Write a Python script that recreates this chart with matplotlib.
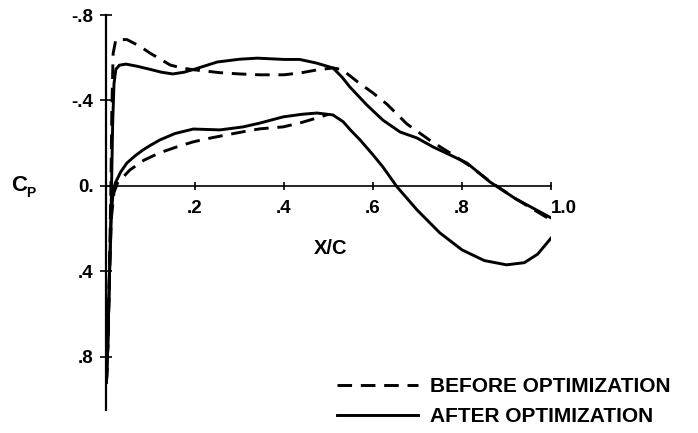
import matplotlib
matplotlib.use("Agg")
import matplotlib.pyplot as plt

plt.rcParams['font.family'] = ['Liberation Sans', 'DejaVu Sans']

# Pressure coefficient distributions (x/c, Cp); negative Cp plotted upward
before_upper_x = [0.001, 0.004, 0.008, 0.011, 0.013, 0.016, 0.022, 0.047, 0.075, 0.1, 0.125,
                  0.144, 0.17, 0.196, 0.256, 0.3, 0.346, 0.4, 0.44, 0.474, 0.51,
                  0.53, 0.566, 0.6, 0.631, 0.676, 0.73, 0.773, 0.82, 0.863, 0.92, 1.0]
before_upper_cp = [0.92, 0.75, 0.35, 0.0, -0.35, -0.62, -0.685, -0.685, -0.655, -0.62, -0.59,
                   -0.566, -0.552, -0.544, -0.53, -0.524, -0.52, -0.52, -0.53, -0.543, -0.552,
                   -0.545, -0.486, -0.435, -0.383, -0.29, -0.21, -0.154, -0.09, -0.02, 0.06, 0.16]

after_upper_x = [0.001, 0.004, 0.008, 0.012, 0.015, 0.018, 0.022, 0.03, 0.045, 0.07, 0.1, 0.125,
                 0.15, 0.175, 0.2, 0.25, 0.3, 0.34, 0.4, 0.435, 0.473, 0.51,
                 0.53, 0.548, 0.586, 0.622, 0.661, 0.699, 0.735, 0.773, 0.811, 0.863, 0.92, 1.0]
after_upper_cp = [0.92, 0.75, 0.4, 0.05, -0.3, -0.48, -0.545, -0.565, -0.57, -0.56, -0.545, -0.532,
                  -0.524, -0.532, -0.547, -0.58, -0.593, -0.598, -0.592, -0.592, -0.575, -0.552,
                  -0.51, -0.463, -0.379, -0.308, -0.252, -0.224, -0.182, -0.145, -0.107, -0.018, 0.06, 0.15]

before_lower_x = [0.001, 0.004, 0.008, 0.012, 0.018, 0.026, 0.054, 0.085, 0.121, 0.16, 0.196,
                  0.235, 0.272, 0.31, 0.346, 0.398, 0.44, 0.474, 0.5]
before_lower_cp = [0.92, 0.75, 0.4, 0.15, 0.03, -0.014, -0.075, -0.12, -0.155, -0.183, -0.206,
                   -0.224, -0.239, -0.254, -0.267, -0.276, -0.297, -0.318, -0.335]

after_lower_x = [0.001, 0.004, 0.008, 0.012, 0.016, 0.021, 0.033, 0.047, 0.065, 0.083, 0.1,
                 0.121, 0.155, 0.196, 0.256, 0.308, 0.346, 0.398, 0.44, 0.474, 0.51,
                 0.533, 0.55, 0.571, 0.6, 0.622, 0.654, 0.699, 0.75, 0.8, 0.85,
                 0.9, 0.94, 0.97, 1.0]
after_lower_cp = [0.92, 0.75, 0.4, 0.13, 0.03, -0.014, -0.065, -0.107, -0.14, -0.168, -0.19,
                  -0.215, -0.245, -0.266, -0.262, -0.276, -0.294, -0.323, -0.335, -0.341, -0.332,
                  -0.3, -0.26, -0.215, -0.145, -0.089, 0.005, 0.113, 0.22, 0.3, 0.35,
                  0.37, 0.36, 0.32, 0.245]

x_ticks = [0.2, 0.4, 0.6, 0.8, 1.0]
x_tick_labels = ['.2', '.4', '.6', '.8', '1.0']
y_ticks = [-0.8, -0.4, 0.0, 0.4, 0.8]
y_tick_labels = ['-.8', '-.4', '0.', '.4', '.8']

labels = ['BEFORE OPTIMIZATION', 'AFTER OPTIMIZATION']

fig = plt.figure(figsize=(6.98, 4.33), dpi=100)
ax = fig.add_axes([0.1519, 0.0531, 0.6375, 0.9122])

lw = 2.1
dash = (5, 3)
l1, = ax.plot(before_upper_x, before_upper_cp, color='black', lw=lw, dashes=dash)
ax.plot(before_lower_x, before_lower_cp, color='black', lw=lw, dashes=dash)
l2, = ax.plot(after_upper_x, after_upper_cp, color='black', lw=lw)
ax.plot(after_lower_x, after_lower_cp, color='black', lw=lw)

ax.set_xlim(0, 1.0)
ax.set_ylim(1.05, -0.8)

for s in ('top', 'right'):
    ax.spines[s].set_visible(False)
ax.spines['bottom'].set_position(('data', 0))
ax.spines['bottom'].set_linewidth(1.2)
ax.spines['left'].set_linewidth(1.6)

ax.set_xticks(x_ticks)
ax.set_xticklabels(x_tick_labels)
ax.set_yticks(y_ticks)
ax.set_yticklabels(y_tick_labels)
ax.tick_params(axis='x', direction='inout', length=6, width=1.2, pad=7,
               labelsize=13.5)
ax.tick_params(axis='y', direction='inout', length=8, width=1.2, pad=5,
               labelsize=13.5)
for t in ax.get_xticklabels() + ax.get_yticklabels():
    t.set_fontweight('bold')
ax.get_xticklabels()[-1].set_horizontalalignment('left')

fig.text(331 / 698, 1 - 248 / 433, 'X/C', ha='center', va='center',
         fontsize=14.5, fontweight='bold')
fig.text(19 / 698, 1 - 185 / 433, 'C', ha='center', va='center',
         fontsize=16, fontweight='bold')
fig.text(31 / 698, 1 - 193 / 433, 'P', ha='center', va='center',
         fontsize=10, fontweight='bold')

fig.legend([l1, l2], labels, loc='upper left',
           bbox_to_anchor=(337 / 698, 1 - 377 / 433), frameon=False,
           borderpad=0, borderaxespad=0, handlelength=3.9, handletextpad=0.55,
           labelspacing=0.55, prop={'size': 15, 'weight': 'bold'})

fig.savefig('out.png', dpi=100)
